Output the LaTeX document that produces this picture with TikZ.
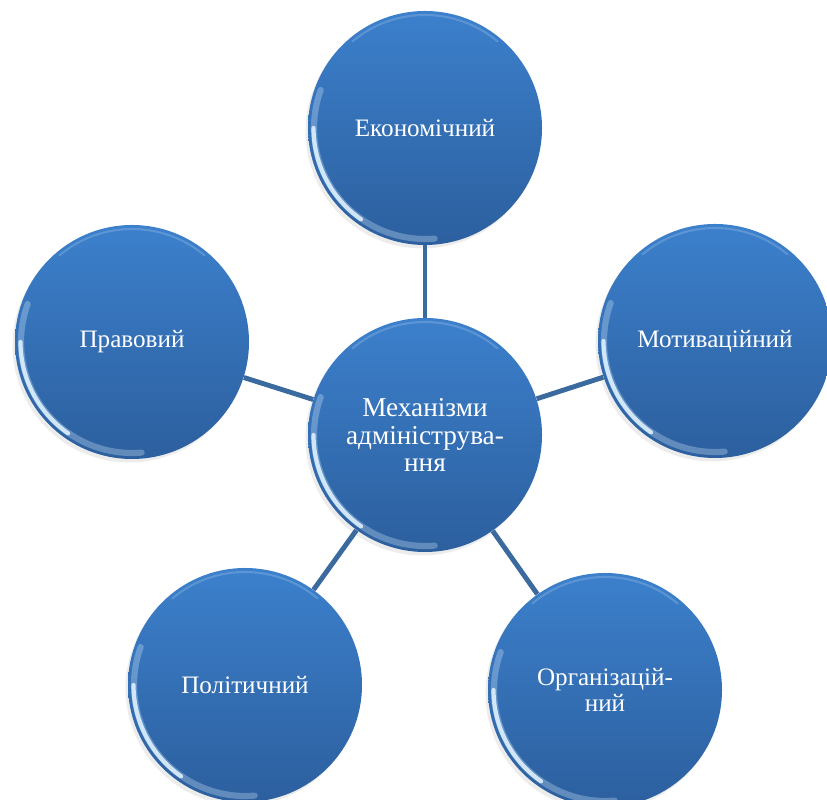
\documentclass[tikz,border=0pt]{standalone}
\usepackage{fontspec}
\setmainfont{Liberation Serif}
\newfontfamily\ballfont{Liberation Serif}
\usetikzlibrary{shadows}

\definecolor{ballTop}{RGB}{60,128,204}
\definecolor{ballBottom}{RGB}{44,95,158}
\definecolor{linkBlue}{RGB}{58,106,158}
\definecolor{rimLight}{RGB}{220,240,255}

\begin{document}
\begin{tikzpicture}[
  ball/.style={circle, minimum size=4.68cm, inner sep=0pt,
    top color=ballTop, bottom color=ballBottom, text=white, align=center,
    font=\ballfont\fontsize{14.3}{14.6}\selectfont,
    drop shadow={opacity=0.15, shadow xshift=-0.05cm, shadow yshift=-0.07cm}},
  link/.style={draw=linkBlue, line width=2.8pt},
  rim/.style={draw=rimLight, line width=2.4pt, line cap=round}
]
\useasboundingbox (0,0) rectangle (16.54,16);

% Circles
\node[ball, font=\ballfont\fontsize{15.5}{15.5}\selectfont] (mech) at (8.5,7.3) {Механізми\\адмініструва-\\ння};
\node[ball] (econ)  at (8.5,13.44) {Економічний};
\node[ball] (law)   at (2.64,9.16) {Правовий};
\node[ball] (motiv) at (14.3,9.18) {Мотиваційний};
\node[ball] (polit) at (4.9,2.3)   {Політичний};
\node[ball] (org)   at (12.1,2.2)  {Організацій-\\ний};

% Glossy rims
\foreach \b in {mech,econ,law,motiv,polit,org} {
  \draw[rim, opacity=0.3, line width=3.5pt] (\b.center) ++(160:2.22) arc[start angle=160, end angle=275, radius=2.22];
  \draw[rim, opacity=0.9] (\b.center) ++(180:2.23) arc[start angle=180, end angle=235, radius=2.23];
  \draw[rim, opacity=0.2, line width=1.2pt] (\b.center) ++(50:2.26) arc[start angle=50, end angle=130, radius=2.26];
}

% Connectors
\draw[link] (mech) -- (econ);
\draw[link] (mech) -- (law);
\draw[link] (mech) -- (motiv);
\draw[link] (mech) -- (polit);
\draw[link] (mech) -- (org);
\end{tikzpicture}
\end{document}
